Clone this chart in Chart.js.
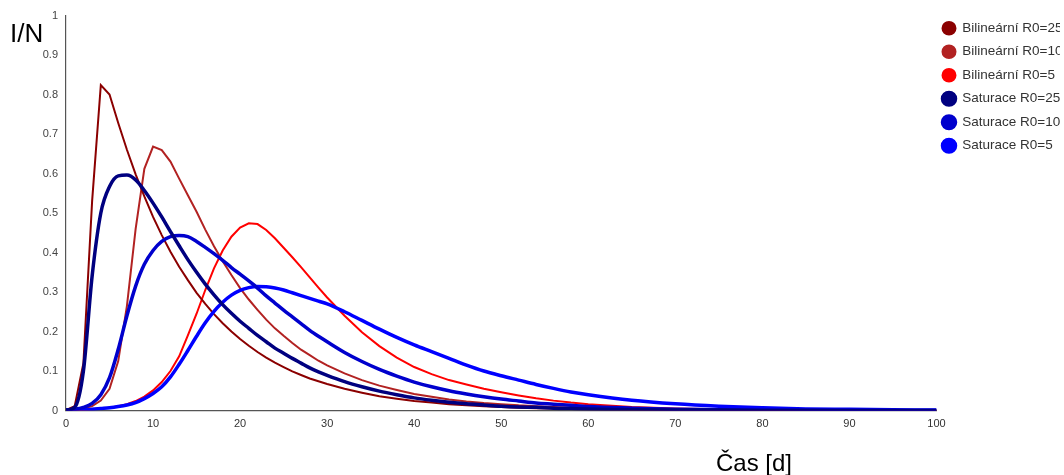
<!DOCTYPE html>
<html>
<head>
<meta charset="utf-8">
<style>
  html, body { margin: 0; padding: 0; background: #ffffff; }
  #wrap { width: 1064px; height: 475px; position: relative; }
</style>
<script src="https://cdn.jsdelivr.net/npm/chart.js@4.4.1/dist/chart.umd.min.js"></script>
</head>
<body>
<div id="wrap"><canvas id="c" width="1064" height="475"></canvas></div>
<script>
// ---- data ----
const days = [0,1,2,3,4,5,6,7,8,9,
  10,11,12,13,14,15,16,17,18,19,
  20,21,22,23,24,25,26,27,28,29,
  30,32,34,36,38,40,42,44,46,48,
  50,52,54,56,58,60,65,70,75,80,
  85,90,95,100];

const bilinear25 = [0.001,0.011,0.12,0.53,0.824,0.80,0.728,0.66,0.598,0.542,
  0.49,0.444,0.402,0.364,0.33,0.298,0.27,0.244,0.221,0.2,
  0.181,0.164,0.148,0.134,0.121,0.11,0.099,0.09,0.081,0.074,
  0.067,0.055,0.045,0.036,0.03,0.024,0.02,0.016,0.013,0.011,
  0.009,0.007,0.006,0.005,0.004,0.003,0.002,0.001,0.001,0,
  0,0,0,0];

const bilinear10 = [0.001,0.002,0.005,0.011,0.025,0.055,0.125,0.265,0.46,0.612,
  0.668,0.659,0.63,0.587,0.545,0.503,0.458,0.416,0.378,0.343,
  0.31,0.281,0.255,0.23,0.208,0.189,0.171,0.154,0.14,0.126,
  0.114,0.094,0.077,0.063,0.052,0.042,0.035,0.028,0.023,0.019,
  0.016,0.013,0.011,0.009,0.007,0.006,0.004,0.002,0.001,0.001,
  0,0,0,0];

const bilinear5 = [0.001,0.0015,0.002,0.003,0.005,0.007,0.011,0.016,0.024,0.035,
  0.051,0.072,0.1,0.137,0.19,0.245,0.305,0.36,0.405,0.44,
  0.463,0.474,0.472,0.457,0.436,0.412,0.388,0.363,0.337,0.311,
  0.286,0.24,0.198,0.163,0.134,0.11,0.092,0.077,0.066,0.055,
  0.046,0.038,0.031,0.025,0.02,0.016,0.009,0.005,0.003,0.002,
  0.001,0.001,0,0];

const saturace25 = [0.001,0.008,0.1,0.34,0.5,0.567,0.594,0.596,0.584,0.557,
  0.525,0.49,0.453,0.417,0.382,0.35,0.32,0.293,0.268,0.246,
  0.226,0.208,0.19,0.174,0.158,0.145,0.132,0.12,0.108,0.098,
  0.089,0.073,0.06,0.049,0.04,0.032,0.026,0.021,0.017,0.014,
  0.011,0.009,0.008,0.006,0.005,0.004,0.002,0.001,0.001,0,
  0,0,0,0];

const saturace10 = [0.001,0.003,0.008,0.018,0.04,0.083,0.155,0.24,0.315,0.37,
  0.405,0.428,0.44,0.443,0.44,0.428,0.413,0.397,0.38,0.362,
  0.345,0.328,0.31,0.29,0.272,0.254,0.237,0.22,0.203,0.188,
  0.174,0.147,0.124,0.104,0.087,0.072,0.06,0.05,0.042,0.035,
  0.029,0.024,0.019,0.016,0.013,0.01,0.006,0.003,0.002,0.001,
  0.001,0,0,0];

const saturace5 = [0.001,0.001,0.002,0.003,0.005,0.007,0.01,0.014,0.02,0.03,
  0.043,0.06,0.085,0.117,0.152,0.188,0.222,0.251,0.274,0.292,
  0.304,0.311,0.314,0.313,0.31,0.305,0.298,0.291,0.284,0.277,
  0.27,0.25,0.228,0.206,0.185,0.166,0.149,0.132,0.115,0.1,
  0.088,0.077,0.066,0.056,0.047,0.04,0.026,0.017,0.011,0.007,
  0.004,0.003,0.002,0.001];

const seriesLabels = ['Bilineární R0=25','Bilineární R0=10','Bilineární R0=5',
                      'Saturace R0=25','Saturace R0=10','Saturace R0=5'];
const seriesValues = [bilinear25, bilinear10, bilinear5, saturace25, saturace10, saturace5];
const seriesColors = ['#8B0000','#B22222','#FF0000','#000080','#0000CD','#0000FF'];
const seriesWidths = [2, 2, 2, 3.5, 3.5, 3.5];

const xTicksStep = 10;
const yTicksStep = 0.1;
const yTitle = 'I/N';
const xTitle = 'Čas [d]';

const FONT = 'Arial, "Liberation Sans", sans-serif';

const datasets = seriesValues.map((vals, k) => ({
  label: seriesLabels[k],
  data: days.map((d, i) => ({ x: d, y: vals[i] })),
  borderColor: seriesColors[k],
  backgroundColor: seriesColors[k],
  borderWidth: seriesWidths[k],
  pointRadius: 0,
  pointHoverRadius: 0,
  pointStyle: 'circle',
  tension: 0,
  cubicInterpolationMode: k < 3 ? 'default' : 'monotone',
  fill: false,
  order: k < 3 ? 1 : 0
}));

const titlesPlugin = {
  id: 'titles',
  afterLayout(chart) {
    const lg = chart.legend;
    if (lg) { lg.left -= 4; lg.right -= 4; lg.top -= 4; lg.bottom -= 4; }
  },
  afterDraw(chart) {
    const ctx = chart.ctx;
    ctx.save();
    ctx.fillStyle = '#000';
    ctx.textBaseline = 'alphabetic';
    ctx.textAlign = 'left';
    ctx.font = '26px ' + FONT;
    ctx.fillText(yTitle, 10, 42);
    ctx.font = '24px ' + FONT;
    ctx.fillText(xTitle, 716, 471);
    ctx.restore();
  }
};

new Chart(document.getElementById('c'), {
  type: 'line',
  data: { datasets },
  options: {
    responsive: false,
    animation: false,
    devicePixelRatio: 1,
    layout: { padding: { top: 15.5, left: 0, right: 0, bottom: 0 } },
    plugins: {
      tooltip: { enabled: false },
      legend: {
        display: true,
        position: 'right',
        align: 'start',
        maxWidth: 127.5,
        labels: {
          usePointStyle: true,
          pointStyle: 'circle',
          boxHeight: 9,
          boxWidth: 13,
          pointStyleWidth: 13,
          padding: 10,
          color: '#333',
          font: { family: FONT, size: 13.5 },
          sort: (a, b) => a.datasetIndex - b.datasetIndex
        }
      }
    },
    scales: {
      x: {
        type: 'linear',
        min: 0, max: 100,
        grid: { display: false, drawTicks: false },
        border: { display: true, color: '#555', width: 1.2 },
        ticks: { stepSize: xTicksStep, padding: 7, color: '#333', font: { family: FONT, size: 11 }, maxRotation: 0 },
        afterFit(scale) { scale.height = 64.5; }
      },
      y: {
        type: 'linear',
        min: 0, max: 1,
        grid: { display: false, drawTicks: false },
        border: { display: true, color: '#555', width: 1.2 },
        ticks: {
          stepSize: yTicksStep, padding: 8, color: '#444', font: { family: FONT, size: 11 },
          callback: (v) => String(Number(Number(v).toFixed(1)))
        },
        afterFit(scale) { scale.width = 66; }
      }
    }
  },
  plugins: [titlesPlugin]
});
</script>
</body>
</html>
